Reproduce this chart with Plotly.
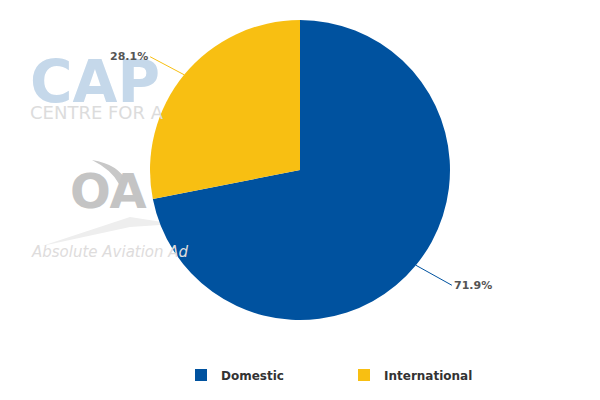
import math
import plotly.graph_objects as go

categories = ["Domestic", "International"]
shares = [71.9, 28.1]
colors = ["#00529F", "#F8BF12"]
label_texts = ["71.9%", "28.1%"]

W, H = 600, 400
OFF = 8  # page body margin: reference pixel = figure pixel + OFF
MT, MB, ML, MR = 12, 88, 0, 16
pw, ph = W - ML - MR, H - MT - MB
R = min(pw, ph) / 2
cx, cy = ML + pw / 2, MT + ph / 2


def px_to_paper(x, y):
    return (x - OFF - ML) / pw, (MT + ph - (y - OFF)) / ph


def path_from_px(cmds):
    out = []
    for c in cmds:
        if isinstance(c, str):
            out.append(c)
        else:
            px, py = px_to_paper(*c)
            out.append(f"{px:.5f},{py:.5f}")
    return " ".join(out)


fig = go.Figure()

# watermark decoration (logo swooshes), drawn below the pie
fig.add_shape(type="path", xref="paper", yref="paper", layer="below",
              path=path_from_px(["M", (92, 160), "Q", (118, 164), (127, 182),
                                 "L", (119, 184), "Q", (112, 170), (92, 160), "Z"]),
              fillcolor="#C8C8C8", line=dict(width=0))
fig.add_shape(type="path", xref="paper", yref="paper", layer="below",
              path=path_from_px(["M", (42, 246), "L", (130, 217), "L", (175, 224),
                                 "L", (130, 227), "Z"]),
              fillcolor="#EEEEEE", line=dict(width=0))

# watermark text (visible parts only, light colours)
cap_x, cap_y = px_to_paper(28, 125)
fig.add_annotation(
    text=("<span style='font-size:58px;font-weight:bold;fill:#C5D8EA'>CAP</span><br>"
          "<span style='font-size:18px;fill:#DCDCDC'>CENTRE FOR A</span>"),
    xref="paper", yref="paper", x=cap_x, y=cap_y, xanchor="left", yanchor="bottom",
    align="left", showarrow=False,
    font=dict(size=13, color="#DCDCDC", family="DejaVu Sans"),
)
oa_x, oa_y = px_to_paper(68, 191)
fig.add_annotation(
    text="OA", xref="paper", yref="paper", x=oa_x, y=oa_y,
    xanchor="left", yanchor="middle", showarrow=False,
    font=dict(size=48, color="#C4C4C4", family="DejaVu Sans", weight="bold"),
)
ab_x, ab_y = px_to_paper(29, 252)
fig.add_annotation(
    text="Absolute Aviation Ad", xref="paper", yref="paper", x=ab_x, y=ab_y,
    xanchor="left", yanchor="middle", showarrow=False,
    font=dict(size=15, color="#DEDCDC", family="DejaVu Sans", style="italic"),
)

fig.add_trace(go.Pie(
    labels=categories, values=shares, sort=False, direction="clockwise",
    rotation=0, marker=dict(colors=colors, line=dict(width=0)),
    textinfo="none", hoverinfo="label+percent", hole=0,
    domain=dict(x=[0, 1], y=[0, 1]),
))

# data labels with connectors, placed from the slice mid-angles
total = sum(shares)
start = 0.0
for name, v, col, txt in zip(categories, shares, colors, label_texts):
    mid = start + v / total * 360 / 2
    start += v / total * 360
    a = math.radians(mid)
    ex = cx + R * math.sin(a)
    ey = cy - R * math.cos(a)
    right = math.sin(a) >= 0
    dx = 36 if right else -34
    dy = 20 if math.cos(a) < 0 else -18
    fig.add_annotation(
        text=txt, xref="paper", yref="paper",
        x=(ex - ML) / pw, y=(MT + ph - ey) / ph,
        ax=dx, ay=dy, showarrow=True, arrowhead=0, arrowwidth=1,
        arrowcolor=col, standoff=0,
        xanchor="left" if right else "right", yanchor="middle",
        font=dict(size=11, color="#555555", family="DejaVu Sans", weight="bold"),
    )

lx, ly = px_to_paper(181, 375)
fig.update_layout(
    width=W, height=H,
    margin=dict(l=ML, r=MR, t=MT, b=MB),
    paper_bgcolor="white", plot_bgcolor="white",
    showlegend=True,
    legend=dict(orientation="h", x=lx, xanchor="left", y=ly, yanchor="middle",
                entrywidth=118,
                font=dict(size=12, color="#333333", family="DejaVu Sans", weight="bold"),
                itemclick=False, traceorder="normal"),
)

fig.write_html("out.html")
